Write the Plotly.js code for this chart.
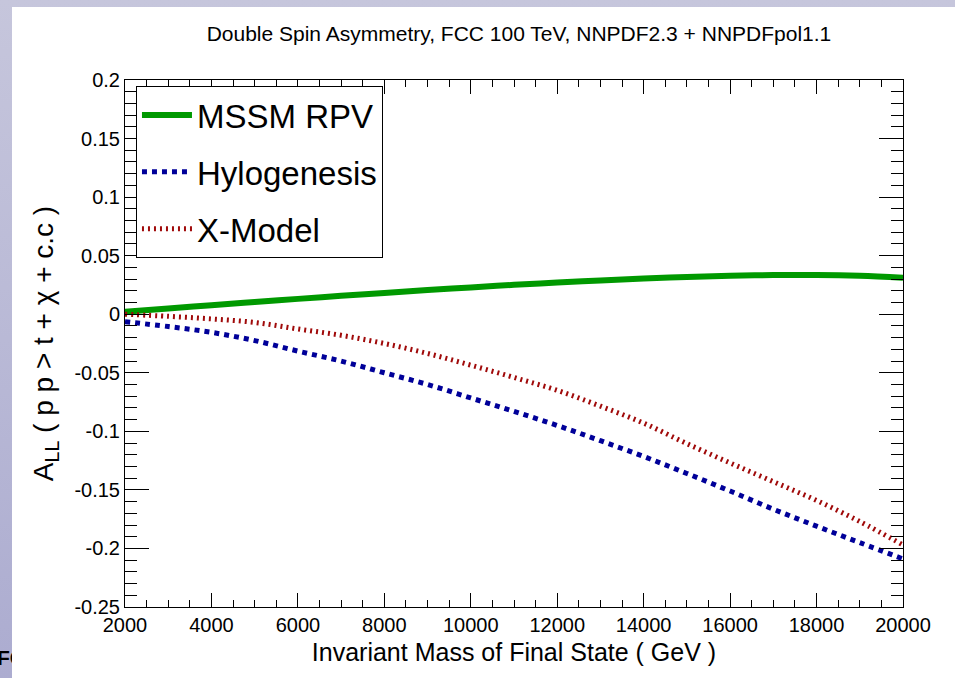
<!DOCTYPE html>
<html>
<head>
<meta charset="utf-8">
<script src="https://cdn.plot.ly/plotly-3.0.1.min.js"></script>
<style>
  html, body { margin:0; padding:0; }
  body { width:955px; height:678px; overflow:hidden; position:relative;
         background: linear-gradient(to bottom, #c6c6dc, #acacd0); font-family: "Liberation Sans", Arial, sans-serif; }
  #plot { position:absolute; left:12px; top:7px; width:943px; height:671px; background:#fff; }
  #fc { position:absolute; left:0; top:646px; width:12px; height:26px; overflow:hidden; }
  #fc span { position:absolute; left:-3px; top:0; font-weight:bold; font-size:21px; color:#000; white-space:nowrap; }
</style>
</head>
<body>
<div id="fc"><span>FC</span></div>
<div id="plot"></div>
<script>
// Invariant mass of final state (GeV)
const mass = [2000,3000,4000,5000,6000,7000,8000,9000,10000,11000,12000,13000,14000,15000,16000,17000,18000,19000,20000];
const mssmRPV = [0.002,0.0049,0.0077,0.0104,0.0131,0.0157,0.0182,0.0206,0.0229,0.0251,0.0271,0.0289,0.0305,0.0318,0.0328,0.0334,0.0335,0.0328,0.0312];
const hylogenesis = [-0.0064,-0.0105,-0.0155,-0.0225,-0.0315,-0.040,-0.050,-0.060,-0.0715,-0.083,-0.095,-0.108,-0.1215,-0.136,-0.151,-0.1665,-0.181,-0.195,-0.209];
const xModel = [0.000,-0.0018,-0.004,-0.007,-0.0126,-0.018,-0.025,-0.0335,-0.0435,-0.054,-0.065,-0.0785,-0.093,-0.1105,-0.127,-0.143,-0.159,-0.177,-0.197];

const seriesNames = ["MSSM RPV", "Hylogenesis", "X-Model"];
const xTickVals = [2000,4000,6000,8000,10000,12000,14000,16000,18000,20000];
const xTickText = ["2000","4000","6000","8000","10000","12000","14000","16000","18000","20000"];
const yTickVals = [0.2,0.15,0.1,0.05,0,-0.05,-0.1,-0.15,-0.2,-0.25];
const yTickText = ["0.2","0.15","0.1","0.05","0","-0.05","-0.1","-0.15","-0.2","-0.25"];

const font = "Liberation Sans, Arial, Helvetica, sans-serif";

const traces = [
  {x: mass, y: mssmRPV, name: seriesNames[0], legendgroup: "a", mode: "lines",
   line: {color: "#009900", width: 6, shape: "spline"}},
  {x: mass, y: hylogenesis, name: seriesNames[1], legendgroup: "b", mode: "lines",
   line: {color: "#000099", width: 5, dash: "dot", shape: "spline"}},
  {x: mass, y: xModel, name: seriesNames[2], legendgroup: "c", mode: "lines",
   line: {color: "#a00a0a", width: 5, dash: "2px,4px", shape: "spline"}}
];

const layout = {
  width: 943, height: 671,
  margin: {l: 113, r: 52, t: 73, b: 71},
  paper_bgcolor: "#ffffff", plot_bgcolor: "#ffffff",
  font: {family: font, color: "#000"},
  title: {text: "Double Spin Asymmetry, FCC 100 TeV, NNPDF2.3 + NNPDFpol1.1",
          font: {size: 21, family: font, color: "#000"},
          xref: "container", x: 0.5376, xanchor: "center", yref: "container", y: 0.96, yanchor: "middle"},
  xaxis: {range: [2000, 20000], showgrid: false, zeroline: false,
          showline: true, linecolor: "#000", linewidth: 1, mirror: "ticks",
          ticks: "inside", ticklen: 14, tickcolor: "#000", tickwidth: 1,
          tickvals: xTickVals, ticktext: xTickText,
          tickfont: {size: 20, family: font},
          minor: {dtick: 500, tick0: 2000, ticks: "inside", ticklen: 7, tickcolor: "#000", showgrid: false},
          title: {text: "Invariant Mass of Final State ( GeV )", font: {size: 25, family: font}, standoff: 8},
          automargin: false},
  yaxis: {range: [-0.25, 0.2], showgrid: false, zeroline: false,
          showline: true, linecolor: "#000", linewidth: 1, mirror: "ticks",
          ticks: "inside", ticklen: 24, tickcolor: "#000", tickwidth: 1,
          tickvals: yTickVals, ticktext: yTickText,
          tickfont: {size: 20, family: font},
          minor: {dtick: 0.01, tick0: 0, ticks: "inside", ticklen: 12, tickcolor: "#000", showgrid: false},
          title: {text: "A<sub>LL</sub> ( p p > t + χ + c.c )", font: {size: 28, family: font}, standoff: 12},
          automargin: false},
  legend: {x: 0.0141, y: 0.9886, xanchor: "left", yanchor: "top",
           bgcolor: "#ffffff", bordercolor: "#000", borderwidth: 1,
           font: {size: 33, family: font, color: "#000"},
           itemwidth: 50, tracegroupgap: 11, traceorder: "grouped"},
  showlegend: true
};

Plotly.newPlot("plot", traces, layout, {displayModeBar: false, staticPlot: true});
</script>
</body>
</html>
